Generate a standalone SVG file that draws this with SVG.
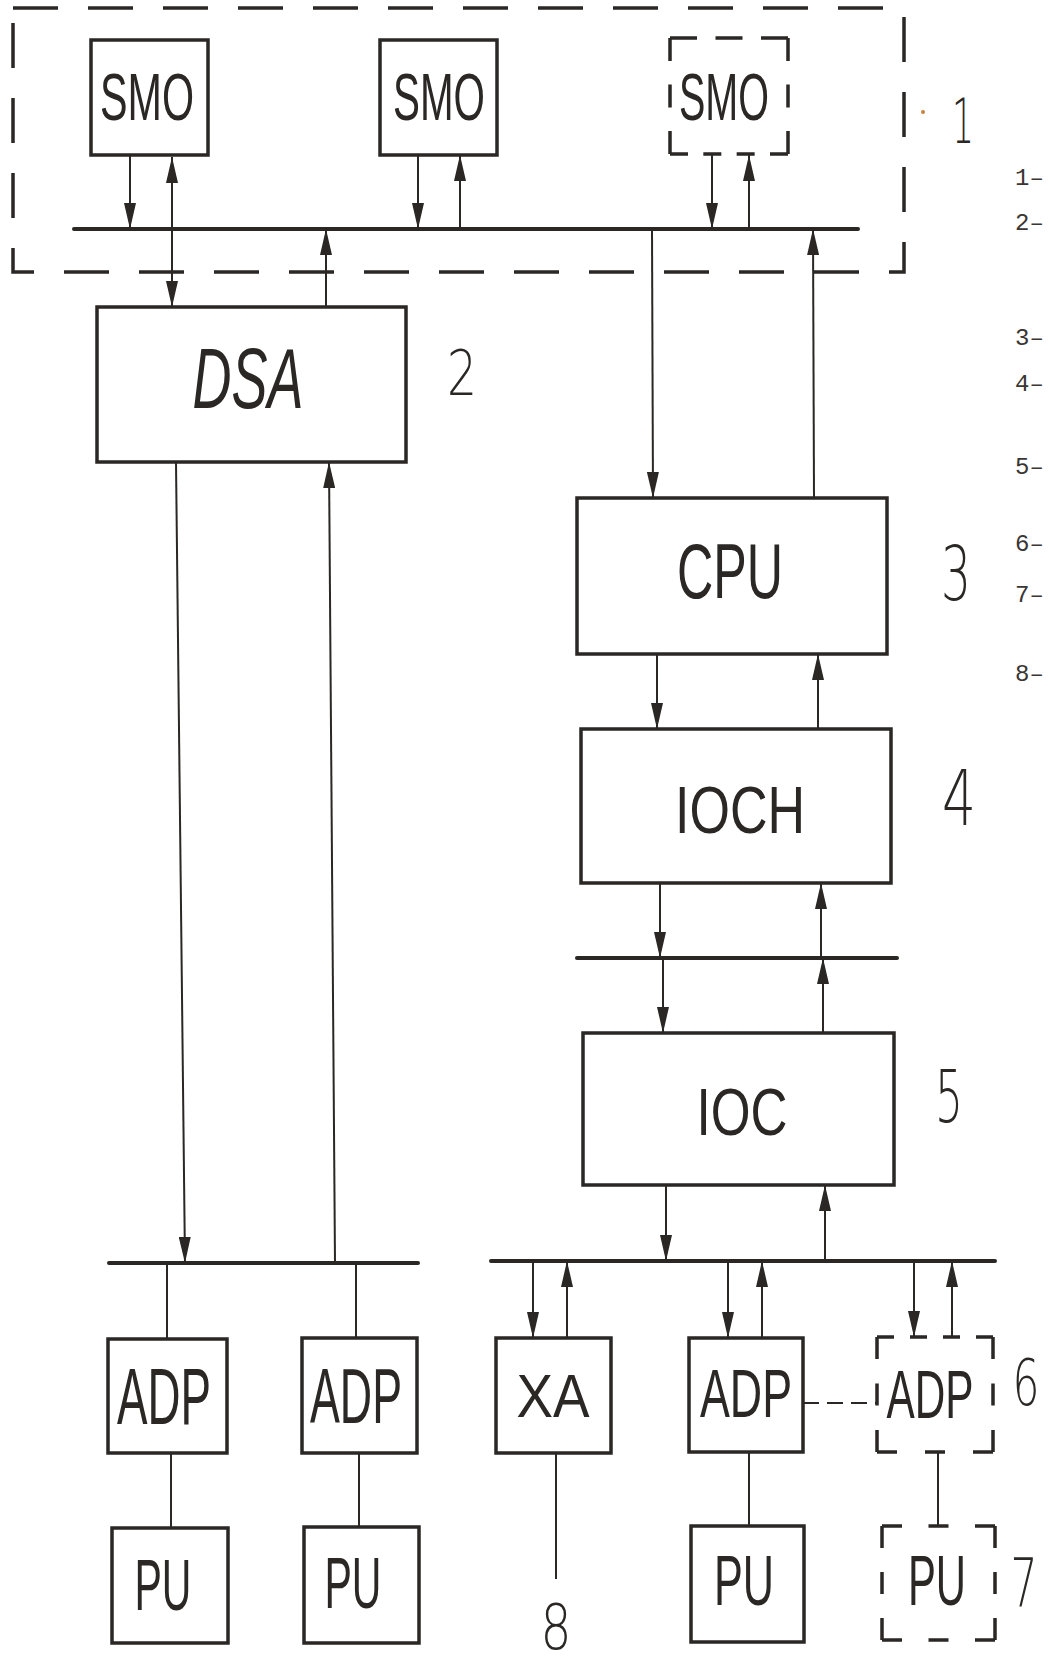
<svg xmlns="http://www.w3.org/2000/svg" width="1049" height="1664" viewBox="0 0 1049 1664">
<style>
.box{fill:none;stroke:#2a2724;stroke-width:3.5}
.dsh{fill:none;stroke:#2a2724;stroke-width:3.5}
.ln{fill:none;stroke:#2a2724;stroke-width:2}
.bus{fill:none;stroke:#2a2724;stroke-width:4;stroke-linecap:round}
.lbl{font-family:"Liberation Sans",Arial,sans-serif;fill:#2a2724;text-anchor:middle}
.num{font-family:"DejaVu Sans","Liberation Sans",Arial,sans-serif;font-weight:200;fill:#2a2724;text-anchor:middle}
.leg{font-family:"Liberation Mono","Courier New",monospace;font-size:24px;fill:#3a3633}
</style>
<defs>
<marker id="ah" markerUnits="userSpaceOnUse" markerWidth="26" markerHeight="12" viewBox="0 0 26 12" refX="26" refY="6" orient="auto-start-reverse">
<path d="M0,0 L26,6 L0,12 z" fill="#2a2724"/>
</marker>
</defs>
<rect width="1049" height="1664" fill="#ffffff"/>

<g id="group1-frame">
<rect x="13" y="8" width="891" height="264" class="dsh" stroke-dasharray="45 30"/>
</g>

<g id="connectors">
<line class="bus" x1="74" y1="229" x2="858" y2="229"/>
<line class="ln" x1="130" y1="155" x2="130" y2="229" marker-end="url(#ah)"/>
<line class="ln" x1="172" y1="157" x2="172" y2="307" marker-start="url(#ah)" marker-end="url(#ah)"/>
<line class="ln" x1="418" y1="155" x2="418" y2="229" marker-end="url(#ah)"/>
<line class="ln" x1="460" y1="229" x2="460" y2="155" marker-end="url(#ah)"/>
<line class="ln" x1="712" y1="155" x2="712" y2="229" marker-end="url(#ah)"/>
<line class="ln" x1="749" y1="229" x2="749" y2="155" marker-end="url(#ah)"/>
<line class="ln" x1="326" y1="307" x2="326" y2="229" marker-end="url(#ah)"/>
<line class="ln" x1="652" y1="229" x2="653" y2="498" marker-end="url(#ah)"/>
<line class="ln" x1="814" y1="498" x2="813" y2="229" marker-end="url(#ah)"/>

<line class="ln" x1="176" y1="462" x2="185" y2="1263" marker-end="url(#ah)"/>
<line class="ln" x1="335" y1="1263" x2="329" y2="462" marker-end="url(#ah)"/>
<line class="bus" x1="109" y1="1263" x2="418" y2="1263"/>
<line class="ln" x1="167" y1="1263" x2="167" y2="1339"/>
<line class="ln" x1="356" y1="1263" x2="356" y2="1338"/>
<line class="ln" x1="171" y1="1453" x2="171" y2="1528"/>
<line class="ln" x1="359" y1="1453" x2="359" y2="1527"/>

<line class="ln" x1="657" y1="654" x2="657" y2="729" marker-end="url(#ah)"/>
<line class="ln" x1="818" y1="729" x2="818" y2="654" marker-end="url(#ah)"/>
<line class="ln" x1="660" y1="883" x2="660" y2="958" marker-end="url(#ah)"/>
<line class="ln" x1="821" y1="958" x2="821" y2="883" marker-end="url(#ah)"/>
<line class="bus" x1="577" y1="958" x2="897" y2="958"/>
<line class="ln" x1="663" y1="958" x2="663" y2="1033" marker-end="url(#ah)"/>
<line class="ln" x1="823" y1="1033" x2="823" y2="958" marker-end="url(#ah)"/>
<line class="ln" x1="666" y1="1185" x2="666" y2="1261" marker-end="url(#ah)"/>
<line class="ln" x1="825" y1="1261" x2="825" y2="1185" marker-end="url(#ah)"/>
<line class="bus" x1="491" y1="1261" x2="995" y2="1261"/>
<line class="ln" x1="533" y1="1261" x2="533" y2="1338" marker-end="url(#ah)"/>
<line class="ln" x1="567" y1="1338" x2="567" y2="1261" marker-end="url(#ah)"/>
<line class="ln" x1="728" y1="1261" x2="728" y2="1338" marker-end="url(#ah)"/>
<line class="ln" x1="762" y1="1338" x2="762" y2="1261" marker-end="url(#ah)"/>
<line class="ln" x1="914" y1="1261" x2="914" y2="1337" marker-end="url(#ah)"/>
<line class="ln" x1="952" y1="1337" x2="952" y2="1261" marker-end="url(#ah)"/>
<line class="ln" x1="556" y1="1453" x2="556" y2="1579"/>
<line class="ln" x1="749" y1="1452" x2="749" y2="1526"/>
<line class="ln" x1="938" y1="1452" x2="938" y2="1526"/>
<line class="ln" x1="803" y1="1403" x2="877" y2="1403" stroke-width="3" stroke-dasharray="16 8"/>
</g>

<g id="smo1"><rect class="box" x="91" y="40" width="117" height="115"/><text class="lbl" x="147" y="120" font-size="67" textLength="94" lengthAdjust="spacingAndGlyphs">SMO</text></g>
<g id="smo2"><rect class="box" x="380" y="40" width="117" height="115"/><text class="lbl" x="439" y="120" font-size="67" textLength="92" lengthAdjust="spacingAndGlyphs">SMO</text></g>
<g id="smo3">
<line class="dsh" x1="670" y1="38" x2="788" y2="38" stroke-dasharray="27 18.5"/>
<line class="dsh" x1="670" y1="154" x2="788" y2="154" stroke-dasharray="18 15.33"/>
<line class="dsh" x1="670" y1="38" x2="670" y2="154" stroke-dasharray="23 23.5"/>
<line class="dsh" x1="788" y1="38" x2="788" y2="154" stroke-dasharray="23 23.5"/>
<text class="lbl" x="724" y="120" font-size="67" textLength="90" lengthAdjust="spacingAndGlyphs">SMO</text></g>

<g id="dsa"><rect class="box" x="97" y="307" width="309" height="155"/><text class="lbl" x="248" y="408" font-size="85" font-style="italic" textLength="111" lengthAdjust="spacingAndGlyphs">DSA</text></g>
<g id="cpu"><rect class="box" x="577" y="498" width="310" height="156"/><text class="lbl" x="730" y="598" font-size="78" textLength="106" lengthAdjust="spacingAndGlyphs">CPU</text></g>
<g id="ioch"><rect class="box" x="581" y="729" width="310" height="154"/><text class="lbl" x="740" y="833" font-size="67" textLength="130" lengthAdjust="spacingAndGlyphs">IOCH</text></g>
<g id="ioc"><rect class="box" x="583" y="1033" width="311" height="152"/><text class="lbl" x="742" y="1135" font-size="66" textLength="91" lengthAdjust="spacingAndGlyphs">IOC</text></g>

<g id="adp1"><rect class="box" x="108" y="1339" width="119" height="114"/><text class="lbl" x="164" y="1424" font-size="80" textLength="94" lengthAdjust="spacingAndGlyphs">ADP</text></g>
<g id="adp2"><rect class="box" x="302" y="1338" width="115" height="115"/><text class="lbl" x="356" y="1423" font-size="78" textLength="92" lengthAdjust="spacingAndGlyphs">ADP</text></g>
<g id="pu1"><rect class="box" x="112" y="1528" width="116" height="115"/><text class="lbl" x="163" y="1610" font-size="73" textLength="57" lengthAdjust="spacingAndGlyphs">PU</text></g>
<g id="pu2"><rect class="box" x="304" y="1527" width="115" height="116"/><text class="lbl" x="353" y="1608" font-size="72" textLength="57" lengthAdjust="spacingAndGlyphs">PU</text></g>
<g id="xa"><rect class="box" x="496" y="1338" width="115" height="115"/><text class="lbl" x="553" y="1417" font-size="62" textLength="73" lengthAdjust="spacingAndGlyphs">XA</text></g>
<g id="adp3"><rect class="box" x="689" y="1338" width="114" height="114"/><text class="lbl" x="746" y="1417" font-size="69" textLength="92" lengthAdjust="spacingAndGlyphs">ADP</text></g>
<g id="adp4">
<line class="dsh" x1="877" y1="1337" x2="993" y2="1337" stroke-dasharray="17 16"/>
<line class="dsh" x1="877" y1="1452" x2="993" y2="1452" stroke-dasharray="20 28"/>
<line class="dsh" x1="877" y1="1337" x2="877" y2="1452" stroke-dasharray="22 24.5"/>
<line class="dsh" x1="993" y1="1337" x2="993" y2="1452" stroke-dasharray="22 24.5"/>
<text class="lbl" x="930" y="1418" font-size="69" textLength="87" lengthAdjust="spacingAndGlyphs">ADP</text></g>
<g id="pu3"><rect class="box" x="691" y="1526" width="113" height="116"/><text class="lbl" x="744" y="1605" font-size="70" textLength="60" lengthAdjust="spacingAndGlyphs">PU</text></g>
<g id="pu4">
<line class="dsh" x1="882" y1="1526" x2="995" y2="1526" stroke-dasharray="20 26.5"/>
<line class="dsh" x1="882" y1="1640" x2="995" y2="1640" stroke-dasharray="20 26.5"/>
<line class="dsh" x1="882" y1="1526" x2="882" y2="1640" stroke-dasharray="22 24"/>
<line class="dsh" x1="995" y1="1526" x2="995" y2="1640" stroke-dasharray="22 24"/>
<text class="lbl" x="937" y="1605" font-size="70" textLength="58" lengthAdjust="spacingAndGlyphs">PU</text></g>

<g id="numbers">
<circle cx="923" cy="112" r="2" fill="#c8843c"/>
<text class="num" x="963" y="143" font-size="63" textLength="22" lengthAdjust="spacingAndGlyphs">1</text>
<text class="num" x="462" y="395" font-size="62" textLength="30" lengthAdjust="spacingAndGlyphs">2</text>
<text class="num" x="956" y="600" font-size="74" textLength="30" lengthAdjust="spacingAndGlyphs">3</text>
<text class="num" x="959" y="825" font-size="76" textLength="34" lengthAdjust="spacingAndGlyphs">4</text>
<text class="num" x="949" y="1122" font-size="73" textLength="28" lengthAdjust="spacingAndGlyphs">5</text>
<text class="num" x="1026" y="1405" font-size="64" textLength="27" lengthAdjust="spacingAndGlyphs">6</text>
<text class="num" x="1024" y="1607" font-size="68" textLength="27" lengthAdjust="spacingAndGlyphs">7</text>
<text class="num" x="556" y="1649" font-size="63" textLength="31" lengthAdjust="spacingAndGlyphs">8</text>
</g>

<g id="legend">
<text class="leg" x="1015" y="185">1–</text>
<text class="leg" x="1015" y="230">2–</text>
<text class="leg" x="1015" y="345">3–</text>
<text class="leg" x="1015" y="391">4–</text>
<text class="leg" x="1015" y="474">5–</text>
<text class="leg" x="1015" y="551">6–</text>
<text class="leg" x="1015" y="602">7–</text>
<text class="leg" x="1015" y="681">8–</text>
</g>
</svg>
